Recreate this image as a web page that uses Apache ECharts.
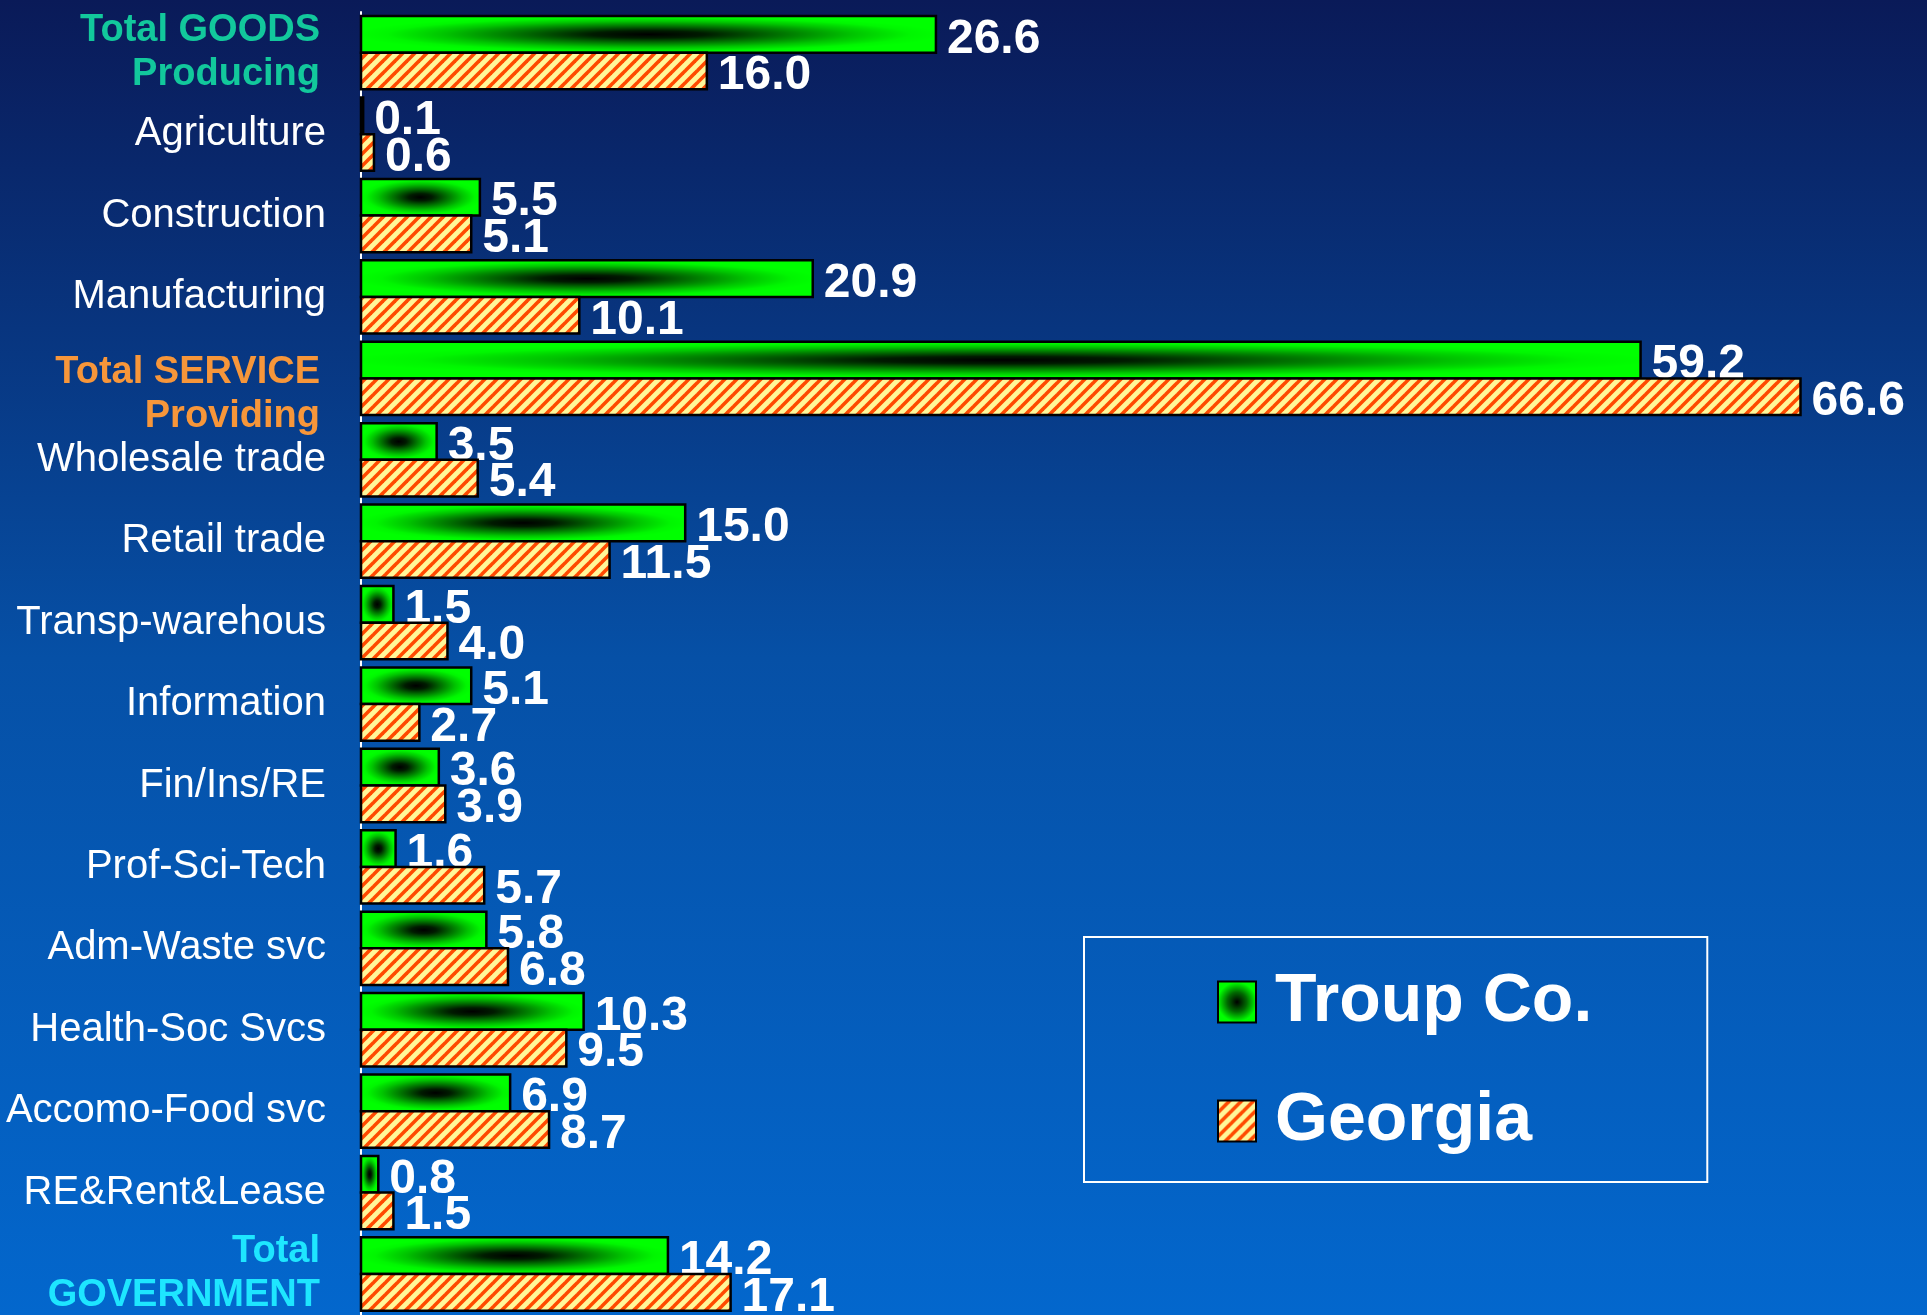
<!DOCTYPE html>
<html><head><meta charset="utf-8">
<script src="https://cdn.jsdelivr.net/npm/echarts@6/dist/echarts.min.js"></script>
<style>html,body{margin:0;padding:0;background:#0a1b5c}#c{width:1927px;height:1315px}</style>
</head><body><div id="c"></div>
<script>
const categories = ['Total GOODS\nProducing','Agriculture','Construction','Manufacturing','Total SERVICE\nProviding','Wholesale trade','Retail trade','Transp-warehous','Information','Fin/Ins/RE','Prof-Sci-Tech','Adm-Waste svc','Health-Soc Svcs','Accomo-Food svc','RE&Rent&Lease','Total\nGOVERNMENT'];
const troup   = [26.6, 0.1, 5.5, 20.9, 59.2, 3.5, 15.0, 1.5, 5.1, 3.6, 1.6, 5.8, 10.3, 6.9, 0.8, 14.2];
const georgia = [16.0, 0.6, 5.1, 10.1, 66.6, 5.4, 11.5, 4.0, 2.7, 3.9, 5.7, 6.8, 9.5, 8.7, 1.5, 17.1];
const seriesNames = ['Troup Co.', 'Georgia'];
const headerColors = {g:'#12c89c', s:'#f7963a', v:'#1ee6ff'};

function hasFont(name){
  const c=document.createElement('canvas').getContext('2d');
  c.font='40px monospace'; const a=c.measureText('Manufacturing Wg').width;
  c.font='40px "'+name+'", monospace'; return c.measureText('Manufacturing Wg').width!==a;
}
const narrow = hasFont('Liberation Sans Narrow') ? 'Liberation Sans Narrow' : (hasFont('Arial Narrow') ? 'Arial Narrow' : null);
const catFont = narrow || 'Liberation Sans';
const catSize = narrow ? 48 : 40;
const valFont = narrow || 'Liberation Sans';
const valSize = narrow ? 56 : 48;

// hatch pattern
const pc = document.createElement('canvas'); pc.width = 12; pc.height = 12;
(function(){
  const g = pc.getContext('2d');
  g.fillStyle = '#fff799'; g.fillRect(0,0,12,12);
  g.strokeStyle = '#ff4a00'; g.lineWidth = 3.6;
  [[-12,12,12,-12],[0,12,12,0],[0,24,24,0]].forEach(l=>{g.beginPath();g.moveTo(l[0],l[1]);g.lineTo(l[2],l[3]);g.stroke();});
})();
const hatch = {image: pc, repeat: 'repeat'};

const radialStops = [
  {offset:0,color:'#000000'},{offset:0.14,color:'#001c00'},{offset:0.3,color:'#006800'},
  {offset:0.5,color:'#00c400'},{offset:0.64,color:'#00f600'},{offset:0.72,color:'#00ff00'},{offset:1,color:'#00ff00'}];
const radialFill = {type:'radial', x:0.5, y:0.5, r:0.71, colorStops: radialStops};

function makeRender(which){
  return function(params, api){
    const i = api.value(1), v = api.value(0);
    const c0 = api.coord([0, i]), c1 = api.coord([v, i]);
    const band = api.size([0, 1])[1];
    const h = band * 0.45;
    const y = which === 0 ? c0[1] - h : c0[1];
    const x = c0[0], w = Math.max(c1[0] - c0[0], 0.5);
    const shape = {x: x, y: y, width: w, height: h};
    const kids = [];
    if (which === 0) {
      kids.push({type:'rect', shape:{x:-w/2, y:-w/2, width:w, height:w},
        x: x + w/2, y: y + h/2, scaleY: h / w, style:{fill: radialFill}});
    } else {
      kids.push({type:'rect', shape: shape, style:{fill: hatch}});
    }
    kids.push({type:'rect', shape: shape, style:{fill:'none', stroke:'#000', lineWidth:2.5}});
    kids.push({type:'text', style:{text: v.toFixed(1), x: c1[0] + 11, y: y + h/2 + 5,
      fill:'#fff', font: 'bold ' + valSize + 'px "' + valFont + '"', align:'left', verticalAlign:'middle'}});
    return {type:'group', children: kids};
  };
}

const richBase = {fontFamily:'Liberation Sans', fontWeight:'bold', fontSize:38, lineHeight:44, padding:[0,6,0,0]};
const chart = echarts.init(document.getElementById('c'));
chart.setOption({
  backgroundColor: {type:'linear',x:0,y:0,x2:0,y2:1,colorStops:[
    {offset:0,color:'#0a1a58'},{offset:0.5,color:'#0650a6'},{offset:1,color:'#0367cd'}]},
  animation: false,
  grid: {left: 361, right: 53, top: 12, bottom: 0, containLabel: false},
  xAxis: {type:'value', min:0, max:70, show:false},
  yAxis: {type:'category', data: categories, inverse: true,
    axisLine: {lineStyle:{color:'#fff', width:2}},
    axisTick: {length: 11, lineStyle:{color:'#fff', width:2}},
    axisLabel: {color:'#fff', fontFamily: catFont, fontSize: catSize, margin: 35,
      formatter: function(val){
        if (val.indexOf('\n') >= 0) {
          const key = val.indexOf('GOODS')>=0 ? 'g' : (val.indexOf('SERVICE')>=0 ? 's' : 'v');
          const parts = val.split('\n');
          return '{' + key + '1|' + parts[0] + '}\n{' + key + '|' + parts[1] + '}';
        }
        return val;
      },
      rich: {
        g1: Object.assign({}, richBase, {color: headerColors.g}),
        g:  Object.assign({}, richBase, {color: headerColors.g}),
        s1: Object.assign({}, richBase, {color: headerColors.s, padding:[32,6,0,0]}),
        s:  Object.assign({}, richBase, {color: headerColors.s, padding:[32,6,0,0]}),
        v1: Object.assign({}, richBase, {color: headerColors.v}),
        v:  Object.assign({}, richBase, {color: headerColors.v})
      }
    }
  },
  legend: {
    orient:'vertical', left: 1084, top: 937,
    padding: [31, 115, 27, 133], borderColor:'#fff', borderWidth: 2,
    itemWidth: 38, itemHeight: 41, itemGap: 51,
    textStyle: {color:'#fff', fontFamily:'Liberation Sans', fontWeight:'bold', fontSize: 68, lineHeight: 68, padding:[0,0,0,14]},
    data: [
      {name: seriesNames[0], icon:'rect', itemStyle:{color:{type:'radial',x:0.5,y:0.5,r:0.7,colorStops:[{offset:0,color:'#000'},{offset:0.35,color:'#006a00'},{offset:0.7,color:'#00ff00'},{offset:1,color:'#00ff00'}]}, borderColor:'#000', borderWidth:2}},
      {name: seriesNames[1], icon:'rect', itemStyle:{color: hatch, borderColor:'#000', borderWidth:2}}
    ]
  },
  series: [
    {name: seriesNames[0], type:'custom', renderItem: makeRender(0), encode:{x:0, y:1},
      data: troup.map((v,i)=>[v,i]), itemStyle:{color:'#00ff00'}},
    {name: seriesNames[1], type:'custom', renderItem: makeRender(1), encode:{x:0, y:1},
      data: georgia.map((v,i)=>[v,i]), itemStyle:{color:'#ff7a30'}}
  ]
});
</script></body></html>
